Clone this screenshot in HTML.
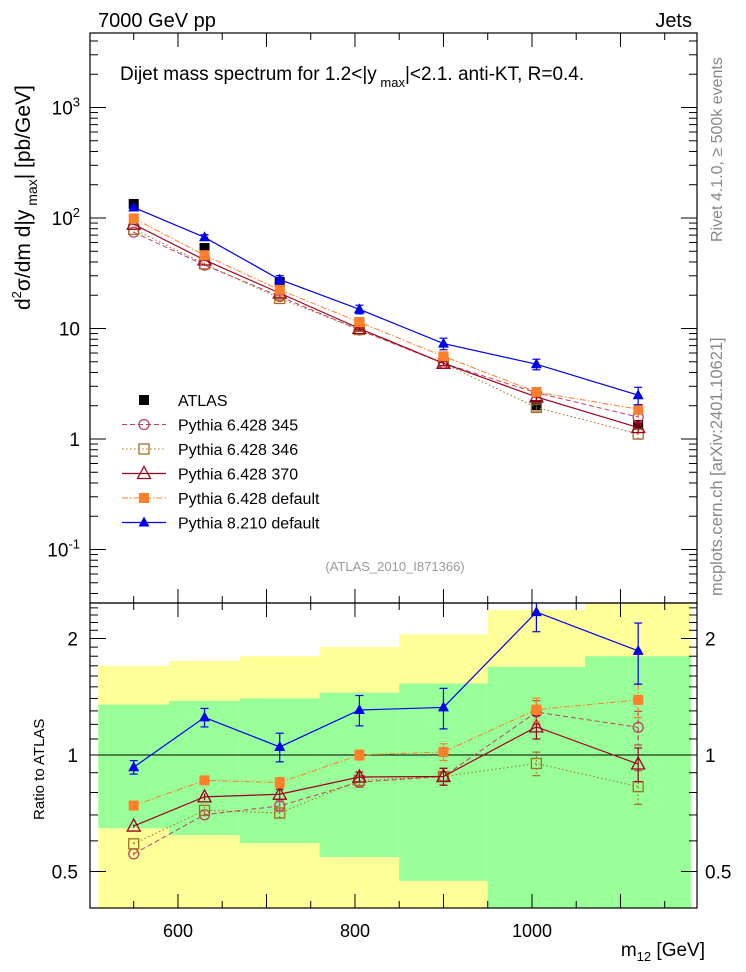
<!DOCTYPE html>
<html><head><meta charset="utf-8"><style>
body{margin:0;background:#fff}
svg{display:block;font-family:"Liberation Sans",sans-serif}
</style></head><body>
<svg id="chart" width="746" height="972" viewBox="0 0 746 972" xmlns="http://www.w3.org/2000/svg">
<defs><clipPath id="rclip"><rect x="90" y="603" width="607" height="305"/></clipPath><clipPath id="mclip"><rect x="90" y="33" width="607" height="570"/></clipPath></defs>
<text x="98" y="27" font-size="20">7000 GeV pp</text>
<text x="692" y="27" font-size="20" text-anchor="end">Jets</text>
<text x="120" y="80" font-size="19">Dijet mass spectrum for 1.2&lt;|y<tspan font-size="13" dy="7">  max</tspan><tspan dy="-7">|&lt;2.1.  anti-KT, R=0.4.</tspan></text>
<text x="395" y="571" font-size="13" fill="#999" text-anchor="middle">(ATLAS_2010_I871366)</text>
<text transform="translate(30,310) rotate(-90)" font-size="21">d<tspan font-size="13" dy="-9">2</tspan><tspan dy="9">σ/dm d|y</tspan><tspan font-size="14" dy="7"> max</tspan><tspan dy="-7">| [pb/GeV]</tspan></text>
<text transform="translate(722,242) rotate(-90)" font-size="16" fill="#888">Rivet 4.1.0, ≥ 500k events</text>
<text transform="translate(722,596) rotate(-90)" font-size="16.5" fill="#888">mcplots.cern.ch [arXiv:2401.10621]</text>
<text transform="translate(44,820) rotate(-90)" font-size="15">Ratio to ATLAS</text>
<text x="705" y="956" font-size="19" text-anchor="end">m<tspan font-size="13" dy="5">12</tspan><tspan dy="-5"> [GeV]</tspan></text>
<g id="bands"></g><g id="axes"></g><g id="series"></g><g id="legend"></g>
</svg>
<script>
const binCenters=[550,630,715,805,900,1005,1120];
const binEdges=[510,590,670,760,850,950,1060,1180];
const atlas=[134,53.5,26.4,11.4,5.5,2.03,1.34];
const atlasRelErr=[0.03,0.03,0.04,0.05,0.06,0.08,0.1];
const yellowHi=[1.70,1.75,1.80,1.90,2.05,2.37,2.7];
const yellowLo=[0.3,0.3,0.3,0.3,0.3,0.3,0.3];
const greenHi=[1.35,1.38,1.40,1.45,1.53,1.69,1.80];
const greenLo=[0.647,0.621,0.592,0.545,0.473,0.3,0.3];
const py345=[74.4,37.5,19.5,9.7,4.84,2.62,1.58];
const py346=[79,38.5,18.7,9.8,4.84,1.93,1.11];
const py370=[87.8,41.7,20.9,10.0,4.84,2.40,1.27];
const pyDef=[99.2,46,22.4,11.4,5.6,2.66,1.86];
const py8=[124.6,66.9,27.7,14.9,7.3,4.75,2.49];
const errSmall=[0.01,0.02,0.03,0.03,0.05,0.07,0.1];
const err8=[0.04,0.055,0.085,0.09,0.12,0.11,0.18];
const mainTicks=["10<tspan font-size='13' dy='-8'>-1</tspan>","1","10","10<tspan font-size='13' dy='-8'>2</tspan>","10<tspan font-size='13' dy='-8'>3</tspan>"];
const mainTickVals=[0.1,1,10,100,1000];
const ratioTickVals=[0.5,1,2];
const xTickVals=[600,800,1000];

const NS="http://www.w3.org/2000/svg";
const L=90,R=697,T=33,MB=603,RB=908;
const X=v=>L+(v-500.6)*0.885;
const Y=v=>439-110.5*Math.log10(v);
const RY=v=>755-116.5*Math.log2(v);
const clampR=y=>Math.max(603,Math.min(908,y));
function mk(p,tag,at){const e=document.createElementNS(NS,tag);for(const k in at)e.setAttribute(k,at[k]);p.appendChild(e);return e;}
const bands=document.getElementById('bands'),axes=document.getElementById('axes'),ser=document.getElementById('series'),leg=document.getElementById('legend');
for(let i=0;i<binCenters.length;i++){
 const x1=X(binEdges[i]),x2=X(binEdges[i+1]);
 let r=mk(bands,'rect',{x:x1,y:clampR(RY(yellowHi[i])),width:x2-x1,height:clampR(RY(yellowLo[i]))-clampR(RY(yellowHi[i])),fill:'#ffff99'});
 
 r=mk(bands,'rect',{x:x1,y:clampR(RY(greenHi[i])),width:x2-x1,height:clampR(RY(greenLo[i]))-clampR(RY(greenHi[i])),fill:'#99ff99'});
 
}
let f=mk(axes,'rect',{x:L,y:T,width:R-L,height:MB-T,fill:'none',stroke:'#000','stroke-width':1.2});

f=mk(axes,'rect',{x:L,y:MB,width:R-L,height:RB-MB,fill:'none',stroke:'#000','stroke-width':1.2});

let one=mk(axes,'line',{x1:L,x2:R,y1:RY(1),y2:RY(1),stroke:'#000','stroke-width':1});

for(let v=550;v<=1150;v+=50){const x=X(v),len=v%100==0?14:7;
 for(const [a,b] of [[T,T+len],[MB,MB-len],[MB,MB+len],[RB,RB-len]])mk(axes,'line',{x1:x,x2:x,y1:a,y2:b,stroke:'#000'});}
xTickVals.forEach(v=>{const t=mk(axes,'text',{x:X(v),y:937,'font-size':18,'text-anchor':'middle'});t.textContent=v;
 });
for(let d=-2;d<=3;d++)for(let m=1;m<10;m++){const v=m*Math.pow(10,d),y=Y(v);if(y<T||y>MB)continue;const len=m==1?16:8;
 mk(axes,'line',{x1:L,x2:L+len,y1:y,y2:y,stroke:'#000'});mk(axes,'line',{x1:R,x2:R-len,y1:y,y2:y,stroke:'#000'});}
mainTickVals.forEach((v,i)=>{const t=mk(axes,'text',{x:80,y:Y(v)+7,'font-size':19,'text-anchor':'end'});t.innerHTML=mainTicks[i];
 });
for(let v=0.4;v<=2.5;v+=0.1){const y=RY(v);if(y<MB||y>RB)continue;const maj=ratioTickVals.some(r=>Math.abs(r-v)<1e-6);const len=maj?16:8;
 mk(axes,'line',{x1:L,x2:L+len,y1:y,y2:y,stroke:'#000'});mk(axes,'line',{x1:R,x2:R-len,y1:y,y2:y,stroke:'#000'});}
ratioTickVals.forEach(v=>{for(const [x,a] of [[78,'end'],[705,'start']]){const t=mk(axes,'text',{x:x,y:RY(v)+7,'font-size':19,'text-anchor':a});t.textContent=v;
 }});

function marker(g,type,x,y,c){
 if(type=='fsq')return mk(g,'rect',{x:x-5,y:y-5,width:10,height:10,fill:c});
 if(type=='osq')return mk(g,'rect',{x:x-5,y:y-5,width:10,height:10,fill:'none',stroke:c,'stroke-width':1.3});
 if(type=='oc')return mk(g,'circle',{cx:x,cy:y,r:5,fill:'none',stroke:c,'stroke-width':1.3});
 if(type=='otri')return mk(g,'path',{d:`M${x} ${y-7}L${x+6.5} ${y+5}L${x-6.5} ${y+5}Z`,fill:'none',stroke:c,'stroke-width':1.3});
 if(type=='ftri')return mk(g,'path',{d:`M${x} ${y-6}L${x+5.5} ${y+4}L${x-5.5} ${y+4}Z`,fill:c});
}
const seriesDefs=[
 {name:'Pythia 6.428 345',vals:py345,err:errSmall,c:'#c04060',m:'oc',dash:'5,3',w:1},
 {name:'Pythia 6.428 346',vals:py346,err:errSmall,c:'#a07020',m:'osq',dash:'1.5,2.5',w:1},
 {name:'Pythia 6.428 370',vals:py370,err:errSmall,c:'#a00020',m:'otri',dash:'',w:1.2},
 {name:'Pythia 6.428 default',vals:pyDef,err:errSmall,c:'#ff7f2a',m:'fsq',dash:'6,2,1.5,2',w:1},
 {name:'Pythia 8.210 default',vals:py8,err:err8,c:'#0000ee',m:'ftri',dash:'',w:1.2}];
const ag=mk(ser,'g',{});
atlas.forEach((v,i)=>{const x=X(binCenters[i]);mk(ag,'line',{x1:x,x2:x,y1:Y(v*(1+atlasRelErr[i])),y2:Y(v*(1-atlasRelErr[i])),stroke:'#000'});
 const p=marker(ag,'fsq',x,Y(v),'#000');});
seriesDefs.forEach((s,si)=>{
 const g0=mk(ser,'g',{});
 for(const panel of ['main','ratio']){
  const g=mk(g0,'g',{'clip-path':panel=='main'?'url(#mclip)':'url(#rclip)'});
  const yf=panel=='main'?(i,v)=>Y(v):(i,v)=>RY(v/atlas[i]);
  const pts=s.vals.map((v,i)=>X(binCenters[i])+','+yf(i,v)).join(' ');
  const pl=mk(g,'polyline',{points:pts,fill:'none',stroke:s.c,'stroke-width':s.w,'stroke-dasharray':s.dash});
  
  s.vals.forEach((v,i)=>{const x=X(binCenters[i]);
   const e=mk(g,'line',{x1:x,x2:x,y1:yf(i,v*(1+s.err[i])),y2:yf(i,v*(1-s.err[i])),stroke:s.c,'stroke-width':1.2,'stroke-dasharray':s.dash});
   
   if(s.err[i]>0.02){for(const yy of [yf(i,v*(1+s.err[i])),yf(i,v*(1-s.err[i]))])mk(g,'line',{x1:x-4,x2:x+4,y1:yy,y2:yy,stroke:s.c,'stroke-width':1.2});}
   const p=marker(g,s.m,x,yf(i,v),s.c);});
 }
});
const lg=[{name:'ATLAS',m:'fsq',c:'#000',dash:null}].concat(seriesDefs);
lg.forEach((s,i)=>{const y=400+i*24.5;const g=mk(leg,'g',{});
 
 if(s.dash!==null)mk(g,'line',{x1:122,x2:166,y1:y,y2:y,stroke:s.c,'stroke-width':s.w,'stroke-dasharray':s.dash});
 marker(g,s.m,144,y,s.c);
 const t=mk(g,'text',{x:178,y:y+6,'font-size':16});t.textContent=s.name;});
</script>
</body></html>
